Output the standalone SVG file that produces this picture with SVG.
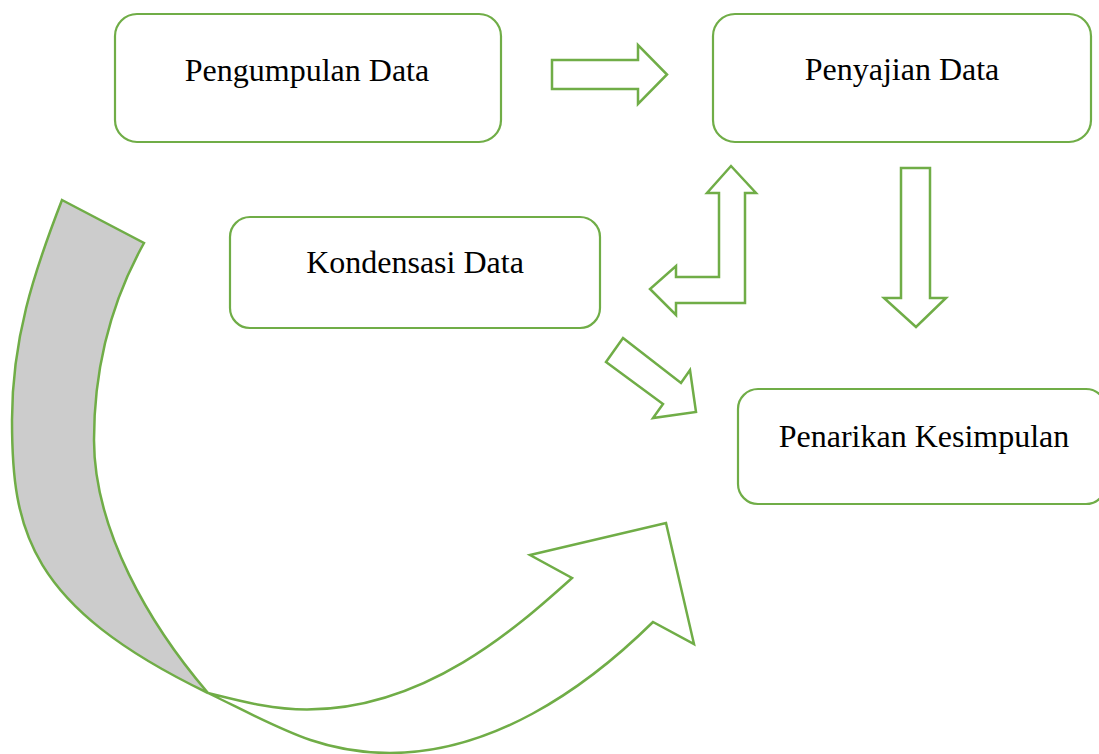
<svg xmlns="http://www.w3.org/2000/svg" width="1099" height="754" viewBox="0 0 1099 754">
<style>
.box{fill:#ffffff;stroke:#70AD47;stroke-width:2.2}
.arr{fill:#ffffff;stroke:#70AD47;stroke-width:2.5;stroke-linejoin:miter}
.lbl{font-family:"Liberation Serif","Times New Roman",serif;font-size:32px;fill:#000000;text-anchor:middle}
</style>
<rect width="1099" height="754" fill="#ffffff"/>
<g id="node-pengumpulan">
<rect class="box" x="115" y="14" width="386" height="128" rx="22"/>
<text class="lbl" x="307" y="81">Pengumpulan Data</text>
</g>
<g id="node-penyajian">
<rect class="box" x="713" y="14" width="378" height="128" rx="22"/>
<text class="lbl" x="902" y="80">Penyajian Data</text>
</g>
<g id="node-kondensasi">
<rect class="box" x="230" y="217" width="370" height="111" rx="20"/>
<text class="lbl" x="415" y="273">Kondensasi Data</text>
</g>
<g id="node-penarikan">
<rect class="box" x="738" y="389" width="368" height="115" rx="20"/>
<text class="lbl" x="924" y="447">Penarikan Kesimpulan</text>
</g>
<g id="connectors">
<path class="arr" d="M552,60 L638,60 L638,45 L667,74.5 L638,104 L638,89 L552,89 Z"/>
<path class="arr" d="M731,166 L756,193 L745,193 L745,303 L676,303 L676,315 L650,289 L676,266 L676,277 L719,277 L719,193 L707,193 Z"/>
<path class="arr" d="M623,338 L681,383 L690,370 L696,412 L653,418 L663,404 L606,362 Z"/>
<path class="arr" d="M901,168 L930,168 L930,298 L946,298 L916,327 L884,298 L901,298 Z"/>
<path class="arr" style="fill:#CCCCCC" d="M62,200 L144,243 C110,304 94,370 94,440 C94,530 149.5,624.6 208,693 C28,606 12,530 12,420 C12,340 33,274.6 62,200 Z"/>
<path class="arr" d="M208,693 C242,701.4 272,709.5 307,709.5 C427,709.5 520,624.6 572,578 L530,555 L666,523 L694,644 L653,622 C582,692 490,753 390,753 C320,753 280,728 208,693 Z"/>
</g>
</svg>
